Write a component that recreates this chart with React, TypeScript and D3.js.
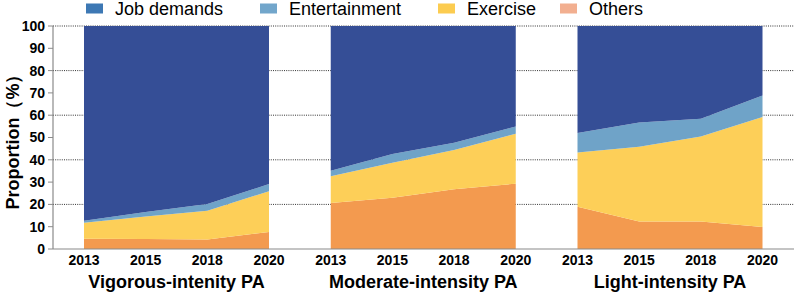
import React, { useEffect, useRef } from 'react';
import * as d3 from 'd3';

const years = ['2013', '2015', '2018', '2020'];
const panels = ['Vigorous-intenity PA', 'Moderate-intensity PA', 'Light-intensity PA'];
const seriesNames = ['Job demands', 'Entertainment', 'Exercise', 'Others'];

// share (%) of each purpose, one row per PA intensity, one value per survey year
const jobDemands = [
	[87.3, 83.4, 79.8, 70.9],
	[64.9, 57.4, 52.3, 45.1],
	[48.0, 43.3, 41.6, 31.2],
];
const entertainment = [
	[0.9, 2.0, 3.0, 3.2],
	[2.5, 3.9, 3.3, 3.2],
	[8.7, 10.8, 8.0, 9.6],
];
const exercise = [
	[7.2, 10.1, 12.9, 18.3],
	[12.0, 15.7, 17.6, 22.4],
	[24.3, 33.6, 38.1, 49.3],
];
const others = [
	[4.6, 4.5, 4.3, 7.6],
	[20.6, 23.0, 26.8, 29.3],
	[19.0, 12.3, 12.3, 9.9],
];

const yTicks = d3.range(0, 101, 10);

const areaColors = {
	job: '#354e96',
	ent: '#6fa3c8',
	exe: '#fdcf58',
	oth: '#f39a4f',
};
const legendColors = ['#3d78b4', '#72a6cb', '#fccc50', '#f2af90'];
const legendX = [86, 260, 438, 560];

const W = 794;
const H = 293;
const axisX = 53;
const panelW = 185;
const font = '"Liberation Sans", Arial, sans-serif';

const drawChart = (svgEl) => {
	const svg = d3.select(svgEl);
	svg.selectAll('*').remove();

	const y = d3.scaleLinear().domain([0, 100]).range([249, 26]);
	const panelX = d3.scalePoint().domain(panels).range([84, 577.5]);
	const x = d3.scalePoint().domain(years).range([0, panelW]);

	// dotted grid behind everything
	svg.append('g')
		.selectAll('line')
		.data(yTicks.filter((t) => t > 0 && t % 20 === 0))
		.join('line')
		.attr('x1', axisX)
		.attr('x2', W)
		.attr('y1', (d) => y(d))
		.attr('y2', (d) => y(d))
		.attr('stroke', '#333')
		.attr('stroke-width', 1)
		.attr('stroke-dasharray', '1,1.2');

	const stack = d3.stack().keys(['oth', 'exe', 'ent', 'job']);
	const area = d3.area()
		.x((d) => x(d.data.year))
		.y0((d) => y(d[0]))
		.y1((d) => y(d[1]));

	panels.forEach((name, p) => {
		const rows = years.map((year, i) => ({
			year,
			job: jobDemands[p][i],
			ent: entertainment[p][i],
			exe: exercise[p][i],
			oth: others[p][i],
		}));
		const g = svg.append('g').attr('transform', `translate(${ panelX(name) },0)`);

		g.selectAll('path')
			.data(stack(rows))
			.join('path')
			.attr('fill', (s) => areaColors[s.key])
			.attr('d', area);

		g.selectAll('text.year')
			.data(years)
			.join('text')
			.attr('class', 'year')
			.attr('x', (d) => x(d))
			.attr('y', 265)
			.attr('text-anchor', 'middle')
			.attr('font-size', 14)
			.attr('font-weight', 'bold')
			.text((d) => d);

		g.append('text')
			.attr('x', panelW / 2)
			.attr('y', 288)
			.attr('text-anchor', 'middle')
			.attr('font-size', 18)
			.attr('font-weight', 'bold')
			.text(name);
	});

	// axes
	svg.append('line')
		.attr('x1', axisX).attr('x2', W)
		.attr('y1', y(0)).attr('y2', y(0))
		.attr('stroke', '#8a8a8a').attr('stroke-width', 1.2);
	svg.append('line')
		.attr('x1', axisX).attr('x2', axisX)
		.attr('y1', y(0)).attr('y2', y(100))
		.attr('stroke', '#8a8a8a').attr('stroke-width', 1.2);

	const ticks = svg.append('g');
	ticks.selectAll('line')
		.data(yTicks)
		.join('line')
		.attr('x1', axisX - 5)
		.attr('x2', axisX)
		.attr('y1', (d) => y(d))
		.attr('y2', (d) => y(d))
		.attr('stroke', '#8a8a8a');
	ticks.selectAll('text')
		.data(yTicks)
		.join('text')
		.attr('x', axisX - 8)
		.attr('y', (d) => y(d))
		.attr('dy', '0.35em')
		.attr('text-anchor', 'end')
		.attr('font-size', 14)
		.attr('font-weight', 'bold')
		.text((d) => d);

	svg.append('text')
		.attr('transform', `translate(19,${ (y(0) + y(100)) / 2 }) rotate(-90)`)
		.attr('text-anchor', 'middle')
		.attr('font-size', 18)
		.attr('font-weight', 'bold')
		.text('Proportion（%）');

	// legend
	const legend = svg.append('g')
		.selectAll('g')
		.data(seriesNames)
		.join('g')
		.attr('transform', (d, i) => `translate(${ legendX[i] },0)`);
	legend.append('rect')
		.attr('y', 3.5)
		.attr('width', 17)
		.attr('height', 10)
		.attr('fill', (d, i) => legendColors[i]);
	legend.append('text')
		.attr('x', 29)
		.attr('y', 15)
		.attr('font-size', 18)
		.text((d) => d);
};

const App = () => {
	const ref = useRef(null);

	useEffect(() => drawChart(ref.current), []);

	return (
		<svg
			ref={ ref }
			width={ W }
			height={ H }
			fontFamily={ font }
			fill="#000"
			style={ { position: 'absolute', left: 0, top: 0, background: '#fff' } }
		/>
	);
};

export default App;
